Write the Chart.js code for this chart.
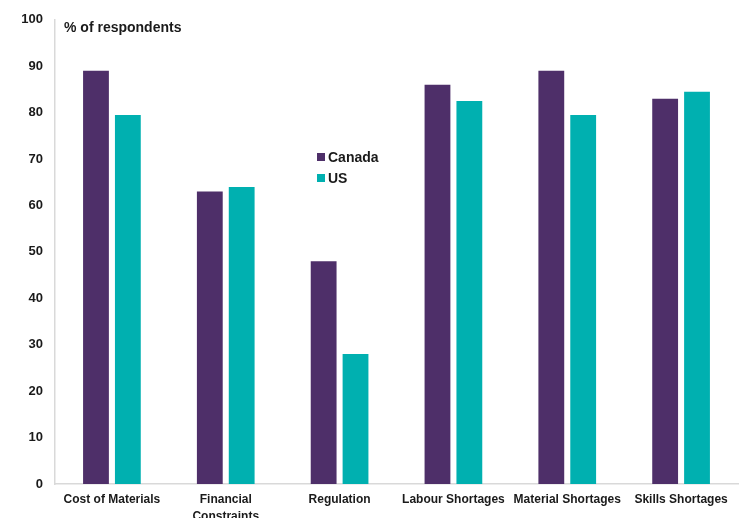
<!DOCTYPE html>
<html>
<head>
<meta charset="utf-8">
<script src="https://cdn.jsdelivr.net/npm/chart.js@4"></script>
<style>
  html, body { margin: 0; padding: 0; background: #fff; }
  #wrap { width: 740px; height: 518px; }
</style>
</head>
<body>
<div id="wrap"><canvas id="obstaclesChart" width="740" height="518"></canvas></div>
<script>
// Survey: main obstacles reported, % of respondents
const categories = ['Cost of Materials', ['Financial', 'Constraints'], 'Regulation', 'Labour Shortages', 'Material Shortages', 'Skills Shortages'];
const canadaValues = [89, 63, 48, 86, 89, 83];
const usValues = [79.5, 64, 28, 82.5, 79.5, 84.5];
const yTicks = [0, 10, 20, 30, 40, 50, 60, 70, 80, 90, 100];

const FONT = '"Liberation Sans", Arial, sans-serif';
const TEXT = '#1a1a1a';

// axis caption + inline legend, painted on top of the plot area
const overlayPlugin = {
    id: 'overlay',
    afterDraw(chart) {
        const ctx = chart.ctx;
        ctx.save();
        ctx.fillStyle = TEXT;
        ctx.font = 'bold 14px ' + FONT;
        ctx.textAlign = 'left';
        ctx.textBaseline = 'alphabetic';
        ctx.fillText('% of respondents', 64, 32);

        chart.data.datasets.forEach((ds, i) => {
            const y = 157 + i * 21;
            ctx.fillStyle = ds.backgroundColor;
            ctx.fillRect(317, y - 4, 8, 8);
            ctx.fillStyle = TEXT;
            ctx.fillText(ds.label, 328, y + 5);
        });
        ctx.restore();
    }
};

const ctx = document.getElementById('obstaclesChart').getContext('2d');
new Chart(ctx, {
    type: 'bar',
    data: {
        labels: categories,
        datasets: [{
            label: 'Canada',
            data: canadaValues,
            backgroundColor: '#4e2f69'
        }, {
            label: 'US',
            data: usValues,
            backgroundColor: '#00b0b0'
        }]
    },
    options: {
        responsive: false,
        animation: false,
        layout: {
            padding: { top: 13, right: 2, left: 0, bottom: 0 }
        },
        datasets: {
            bar: {
                categoryPercentage: 0.56,
                barPercentage: 0.81
            }
        },
        plugins: {
            legend: { display: false },
            tooltip: { enabled: false }
        },
        scales: {
            x: {
                grid: { display: false, drawTicks: false },
                border: { display: true, color: '#d9d9d9', width: 1.5 },
                ticks: {
                    color: TEXT,
                    padding: 7,
                    maxRotation: 0,
                    autoSkip: false,
                    font: { family: FONT, size: 12, weight: 'bold', lineHeight: 1.45 }
                },
                afterFit(scale) { scale.height = 34; }
            },
            y: {
                min: 0,
                max: 100,
                grid: { display: false, drawTicks: false },
                border: { display: true, color: '#d9d9d9', width: 1.5 },
                afterBuildTicks(scale) {
                    scale.ticks = yTicks.map(v => ({ value: v }));
                },
                ticks: {
                    color: TEXT,
                    padding: 12,
                    font: { family: FONT, size: 13, weight: 'bold' }
                },
                afterFit(scale) { scale.width = 55; }
            }
        }
    },
    plugins: [overlayPlugin]
});
</script>
</body>
</html>
